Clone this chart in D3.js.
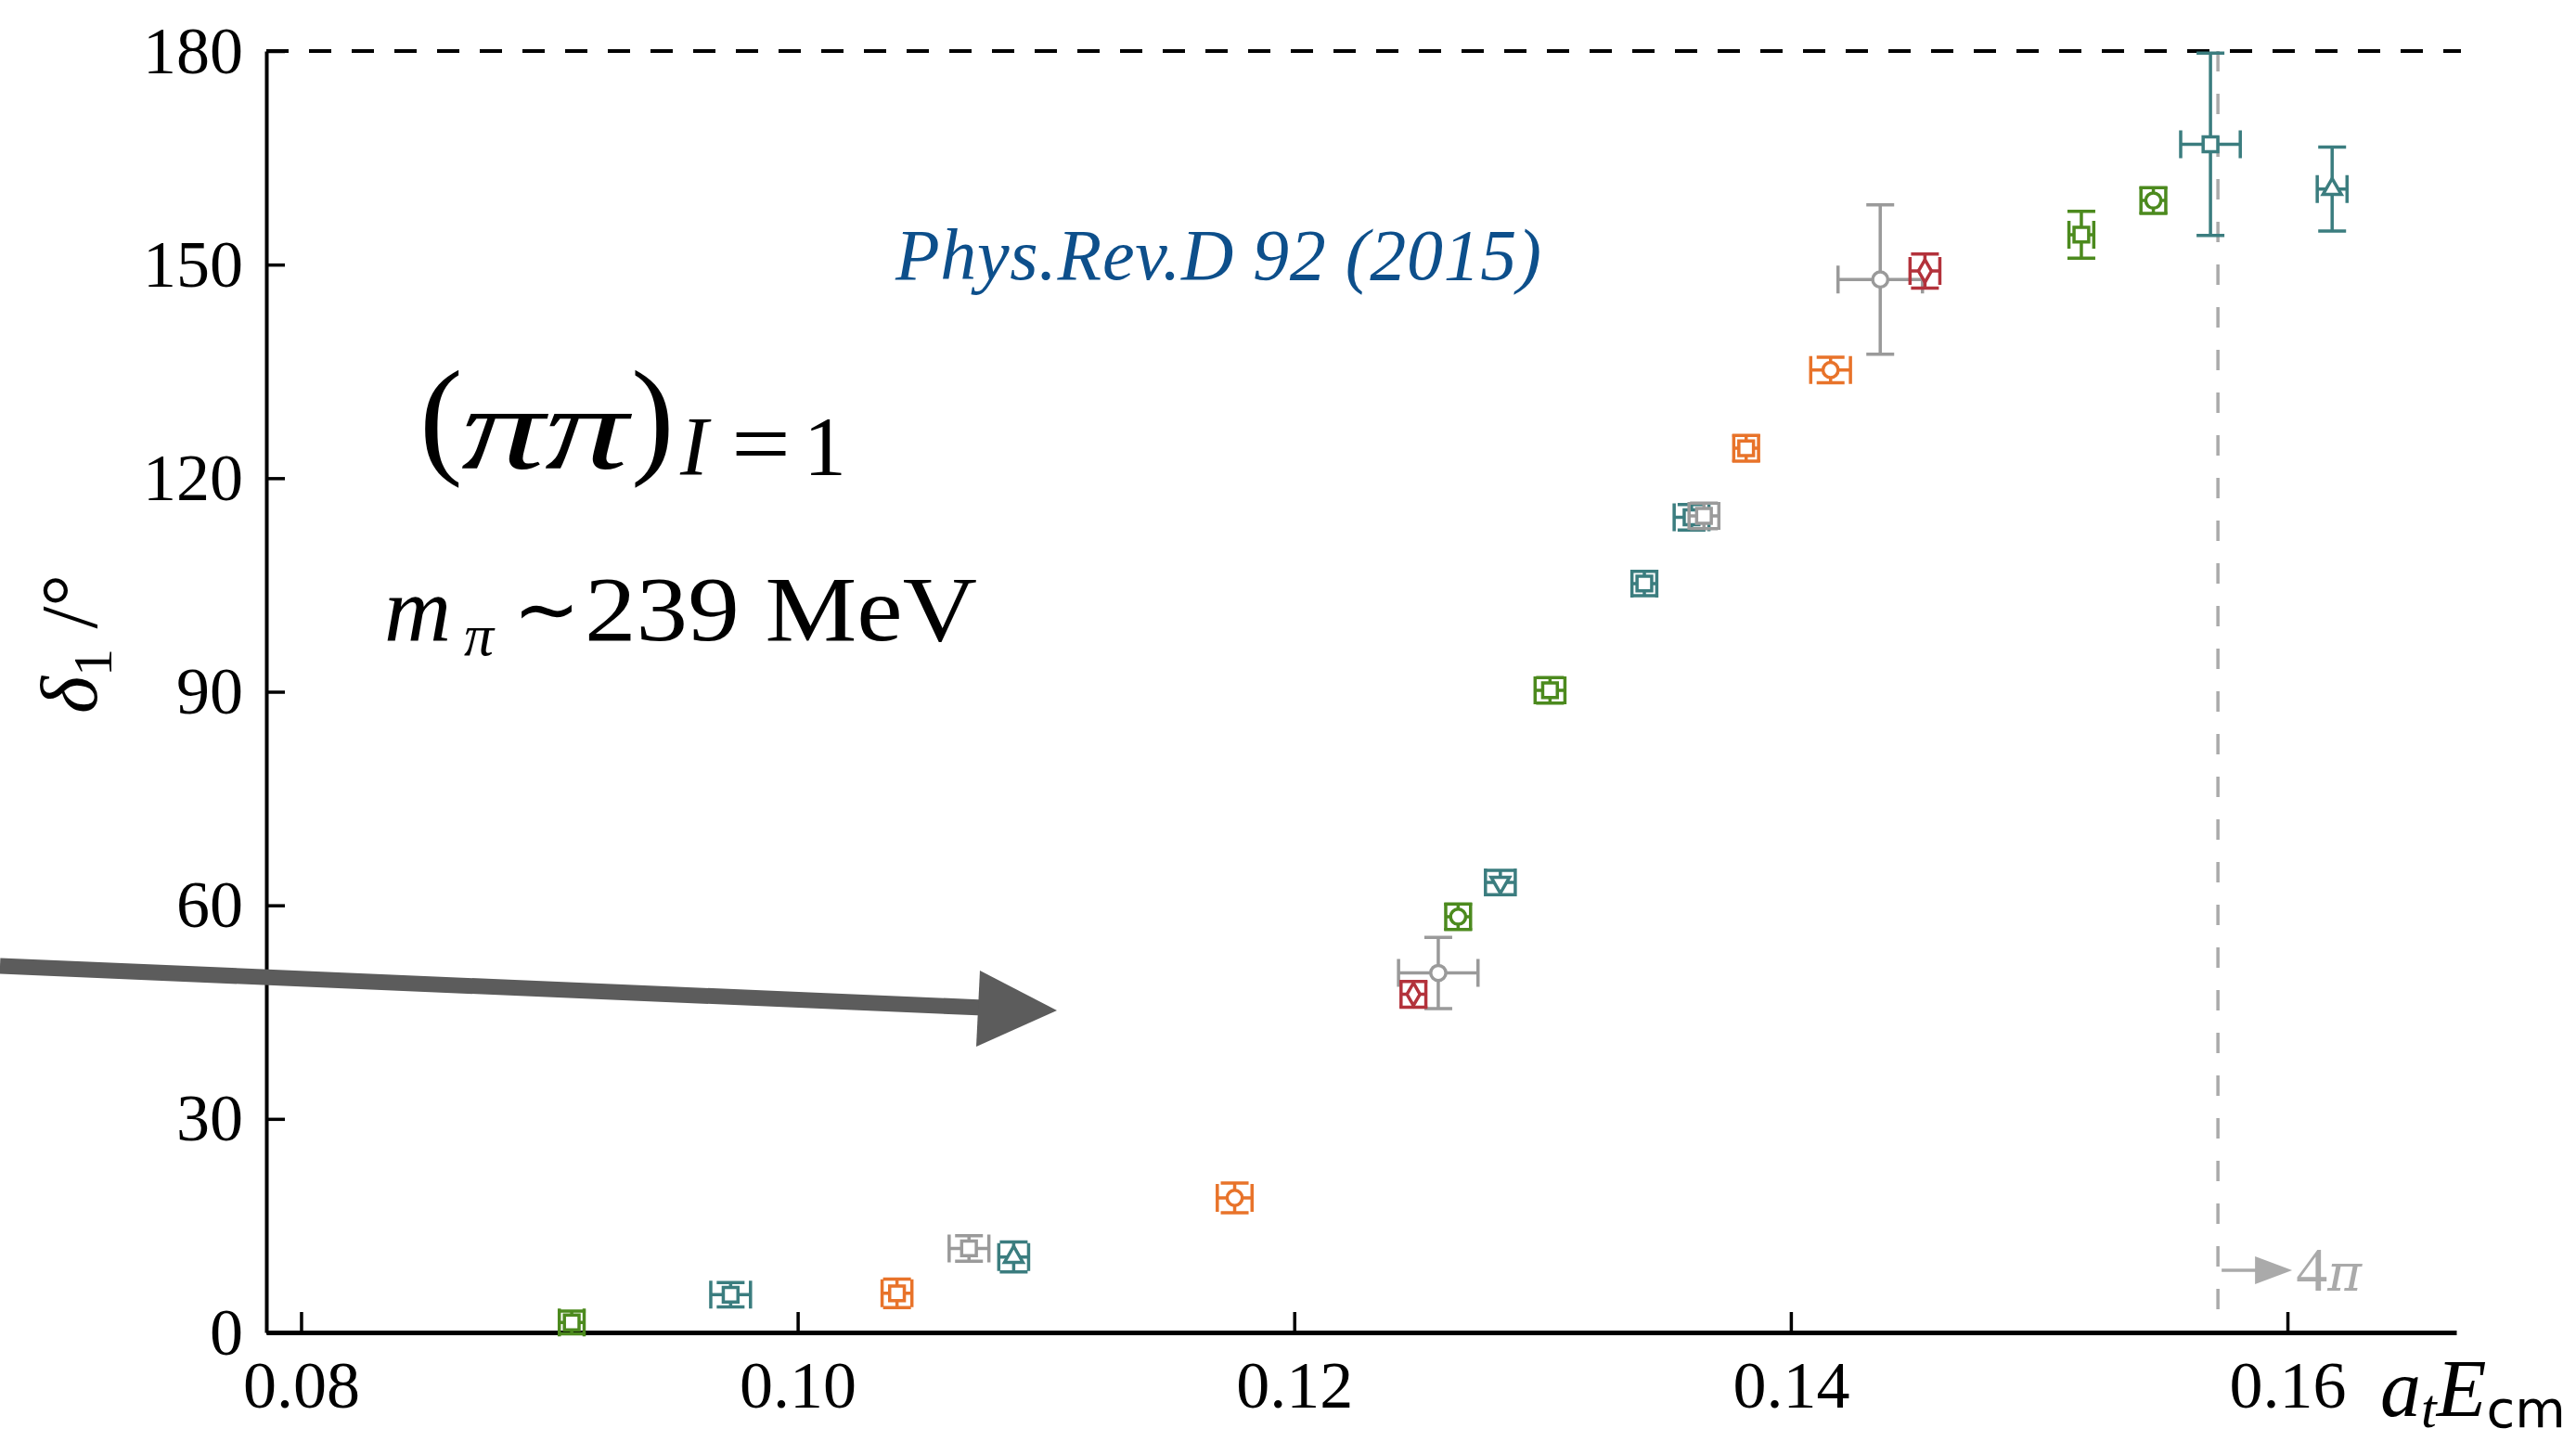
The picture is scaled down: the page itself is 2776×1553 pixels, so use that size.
<!DOCTYPE html>
<meta charset="utf-8">
<script src="https://d3js.org/d3.v7.min.js"></script>
<style>
  body { margin: 0; background: #fff; }
  svg text { font-family: "Liberation Serif", "Times New Roman", serif; }
</style>
<svg id="chart" width="2776" height="1553"></svg>
<script>

// ---- data ----
var energy = [0.0909, 0.0973, 0.1040, 0.1069, 0.1087, 0.1176, 0.1248, 0.1258, 0.1266, 0.1283, 0.1303,
              0.1341, 0.1360, 0.1365, 0.1382, 0.1416, 0.1436, 0.1454, 0.1517, 0.1546, 0.1569, 0.1618];
var phase  = [1.4, 5.3, 5.5, 11.8, 10.6, 18.9, 47.5, 50.5, 58.4, 63.2, 90.2,
              105.2, 114.5, 114.7, 124.2, 135.2, 147.9, 149.1, 154.2, 159.0, 166.9, 160.6];
var energyErr = [0.0005, 0.0008, 0.0006, 0.0008, 0.0006, 0.0007, 0.0005, 0.0016, 0.0005, 0.0006, 0.0006,
                 0.0005, 0.0007, 0.0006, 0.0005, 0.0008, 0.0017, 0.0006, 0.0005, 0.0005, 0.0012, 0.0006];
var phaseErr  = [1.6, 1.7, 2.0, 1.8, 2.1, 2.1, 1.8, 5.0, 1.8, 1.7, 1.8,
                 1.7, 1.8, 1.8, 1.8, 1.8, 10.5, 2.4, 3.3, 1.8, 12.8, 5.9];
var frame  = ["green", "teal", "orange", "gray", "teal", "orange", "red", "gray", "green", "teal", "green",
              "teal", "teal", "gray", "orange", "orange", "gray", "red", "green", "green", "teal", "teal"];
var marker = ["square", "square", "square", "square", "triangle", "circle", "diamond", "circle", "circle", "triangleDown", "square",
              "square", "square", "square", "square", "circle", "circle", "diamond", "square", "circle", "square", "triangle"];

var xTicks = [0.08, 0.10, 0.12, 0.14, 0.16];
var yTicks = [0, 30, 60, 90, 120, 150, 180];
var fourPiThreshold = 0.1572;   // 4 pi inelastic threshold

var colors = { green: "#4c8a1e", teal: "#3b7d7f", orange: "#e8732a", gray: "#9a9a9a", red: "#b3323b" };
var layer  = { teal: 0, gray: 1, green: 2, orange: 2, red: 3 };

// ---- svg + scales ----
var svg = d3.select("#chart");

var x = d3.scaleLinear()
    .domain([0.0786, 0.1668])
    .range([287, 2647]);

var y = d3.scaleLinear()
    .domain([0, 180])
    .range([1436, 55]);

// dashed line at 180
svg.append("line")
    .attr("x1", x.range()[0]).attr("x2", 2652)
    .attr("y1", y(180)).attr("y2", y(180))
    .attr("stroke", "#000").attr("stroke-width", 4)
    .attr("stroke-dasharray", "24,22");

// 4pi threshold
svg.append("line")
    .attr("x1", x(fourPiThreshold)).attr("x2", x(fourPiThreshold))
    .attr("y1", y(180)).attr("y2", y(0))
    .attr("stroke", "#aaaaaa").attr("stroke-width", 3.5)
    .attr("stroke-dasharray", "22,24");

// axes
var yAxis = svg.append("g")
    .attr("transform", "translate(" + x.range()[0] + ",0)")
    .call(d3.axisLeft(y).tickValues(yTicks).tickSizeInner(-20).tickSizeOuter(0).tickPadding(25));

var xAxis = svg.append("g")
    .attr("transform", "translate(0," + y(0) + ")")
    .call(d3.axisBottom(x).tickValues(xTicks).tickFormat(d3.format(".2f")).tickSizeInner(-22).tickSizeOuter(0).tickPadding(30));

yAxis.select(".domain").attr("stroke-width", 4);
xAxis.select(".domain").attr("stroke-width", 5);
svg.selectAll(".tick line").attr("stroke-width", 3.5);
svg.selectAll(".tick text")
    .attr("font-family", "Liberation Serif")
    .attr("font-size", 72)
    .attr("fill", "#000");

// ---- points with error bars ----
var pts = energy.map(function(e, i) {
  return { x: e, y: phase[i], dx: energyErr[i], dy: phaseErr[i], c: frame[i], m: marker[i] };
}).sort(function(a, b) { return layer[a.c] - layer[b.c]; });

var cap = 15;
var sym = {
  square:       d3.symbol().type(d3.symbolSquare).size(250),
  circle:       d3.symbol().type(d3.symbolCircle).size(210),
  triangle:     d3.symbol().type(d3.symbolTriangle).size(170),
  triangleDown: d3.symbol().type(d3.symbolTriangle).size(170),
  diamond:      d3.symbol().type(d3.symbolDiamond).size(170)
};

var g = svg.append("g")
  .selectAll("g")
  .data(pts)
  .enter()
  .append("g")
    .attr("stroke", function(d) { return colors[d.c]; })
    .attr("stroke-width", 3.5)
    .attr("fill", "none");

// horizontal bar + caps
g.append("path")
    .attr("d", function(d) {
      var x0 = x(d.x - d.dx), x1 = x(d.x + d.dx), yc = y(d.y);
      return "M" + x0 + "," + yc + "H" + x1 +
             "M" + x0 + "," + (yc - cap) + "V" + (yc + cap) +
             "M" + x1 + "," + (yc - cap) + "V" + (yc + cap);
    });

// vertical bar + caps
g.append("path")
    .attr("d", function(d) {
      var y0 = y(d.y - d.dy), y1 = y(d.y + d.dy), xc = x(d.x);
      return "M" + xc + "," + y0 + "V" + y1 +
             "M" + (xc - cap) + "," + y0 + "H" + (xc + cap) +
             "M" + (xc - cap) + "," + y1 + "H" + (xc + cap);
    });

// open markers
g.append("path")
    .attr("fill", "#fff")
    .attr("d", function(d) { return sym[d.m](); })
    .attr("transform", function(d) {
      return "translate(" + x(d.x) + "," + y(d.y) + ")" + (d.m === "triangleDown" ? " rotate(180)" : "");
    });

// ---- labels ----
svg.append("text")
    .attr("x", 965).attr("y", 301)
    .attr("font-size", 78).attr("font-style", "italic")
    .attr("fill", "#0d4f8b")
    .attr("textLength", 696).attr("lengthAdjust", "spacing")
    .text("Phys.Rev.D 92 (2015)");

// (pi pi)_{I=1}
var f1 = svg.append("g").attr("fill", "#000");
f1.append("text").attr("x", 452).attr("y", 496).attr("font-size", 140).text("(");
f1.append("text").attr("x", 497).attr("y", 505).attr("font-size", 128).attr("font-style", "italic")
    .attr("font-family", "DejaVu Serif")
    .attr("textLength", 180).attr("lengthAdjust", "spacingAndGlyphs").text("ππ");
f1.append("text").attr("x", 680).attr("y", 496).attr("font-size", 140).text(")");
f1.append("text").attr("x", 733).attr("y", 512).attr("font-size", 90).attr("font-style", "italic").text("I");
f1.append("text").attr("x", 788).attr("y", 512).attr("font-size", 100)
    .attr("textLength", 64).attr("lengthAdjust", "spacingAndGlyphs").text("=");
f1.append("text").attr("x", 866).attr("y", 512).attr("font-size", 92).text("1");

// m_pi ~ 239 MeV
var f2 = svg.append("g").attr("fill", "#000");
f2.append("text").attr("x", 414).attr("y", 690).attr("font-size", 100).attr("font-style", "italic").text("m");
f2.append("text").attr("x", 500).attr("y", 706).attr("font-size", 64).attr("font-style", "italic")
    .attr("font-family", "DejaVu Serif").text("π");
f2.append("text").attr("x", 553).attr("y", 686).attr("font-size", 86).text("∼");
f2.append("text").attr("x", 630).attr("y", 690).attr("font-size", 100)
    .attr("textLength", 423).attr("lengthAdjust", "spacingAndGlyphs").text("239 MeV");

// y label
var yl = svg.append("text")
    .attr("transform", "translate(104,694) rotate(-90)")
    .attr("text-anchor", "middle")
    .attr("font-size", 86);
yl.append("tspan").attr("font-style", "italic").text("δ");
yl.append("tspan").attr("font-size", 60).attr("dy", 16).text("1");
yl.append("tspan").attr("dy", -16).text("  /°");

// x label
var xl = svg.append("text")
    .attr("x", 2565).attr("y", 1526)
    .attr("font-size", 88);
xl.append("tspan").attr("font-style", "italic").text("a");
xl.append("tspan").attr("font-style", "italic").attr("font-size", 60).attr("dy", 12).text("t");
xl.append("tspan").attr("font-style", "italic").attr("dy", -12).text("E");
xl.append("tspan").attr("font-family", "DejaVu Sans").attr("font-size", 56).attr("dy", 12).text("cm");

// -> 4 pi note
svg.append("line")
    .attr("x1", x(fourPiThreshold) + 4).attr("x2", x(fourPiThreshold) + 52)
    .attr("y1", 1369).attr("y2", 1369)
    .attr("stroke", "#aaaaaa").attr("stroke-width", 3.5);
svg.append("path")
    .attr("d", "M" + (x(fourPiThreshold) + 40) + ",1354L" + (x(fourPiThreshold) + 80) + ",1369L" + (x(fourPiThreshold) + 40) + ",1384Z")
    .attr("fill", "#aaaaaa");
svg.append("text")
    .attr("x", x(fourPiThreshold) + 84).attr("y", 1391)
    .attr("font-size", 68).attr("fill", "#aaaaaa")
    .html("4<tspan font-style='italic' font-family='DejaVu Serif' font-size='56'>π</tspan>");

// big pointer arrow
svg.append("line")
    .attr("x1", 0).attr("y1", 1041)
    .attr("x2", 1060).attr("y2", 1086)
    .attr("stroke", "#5c5c5c").attr("stroke-width", 17);
svg.append("path")
    .attr("d", "M1056,1046L1139,1089L1052,1128Z")
    .attr("fill", "#5c5c5c");

</script>
